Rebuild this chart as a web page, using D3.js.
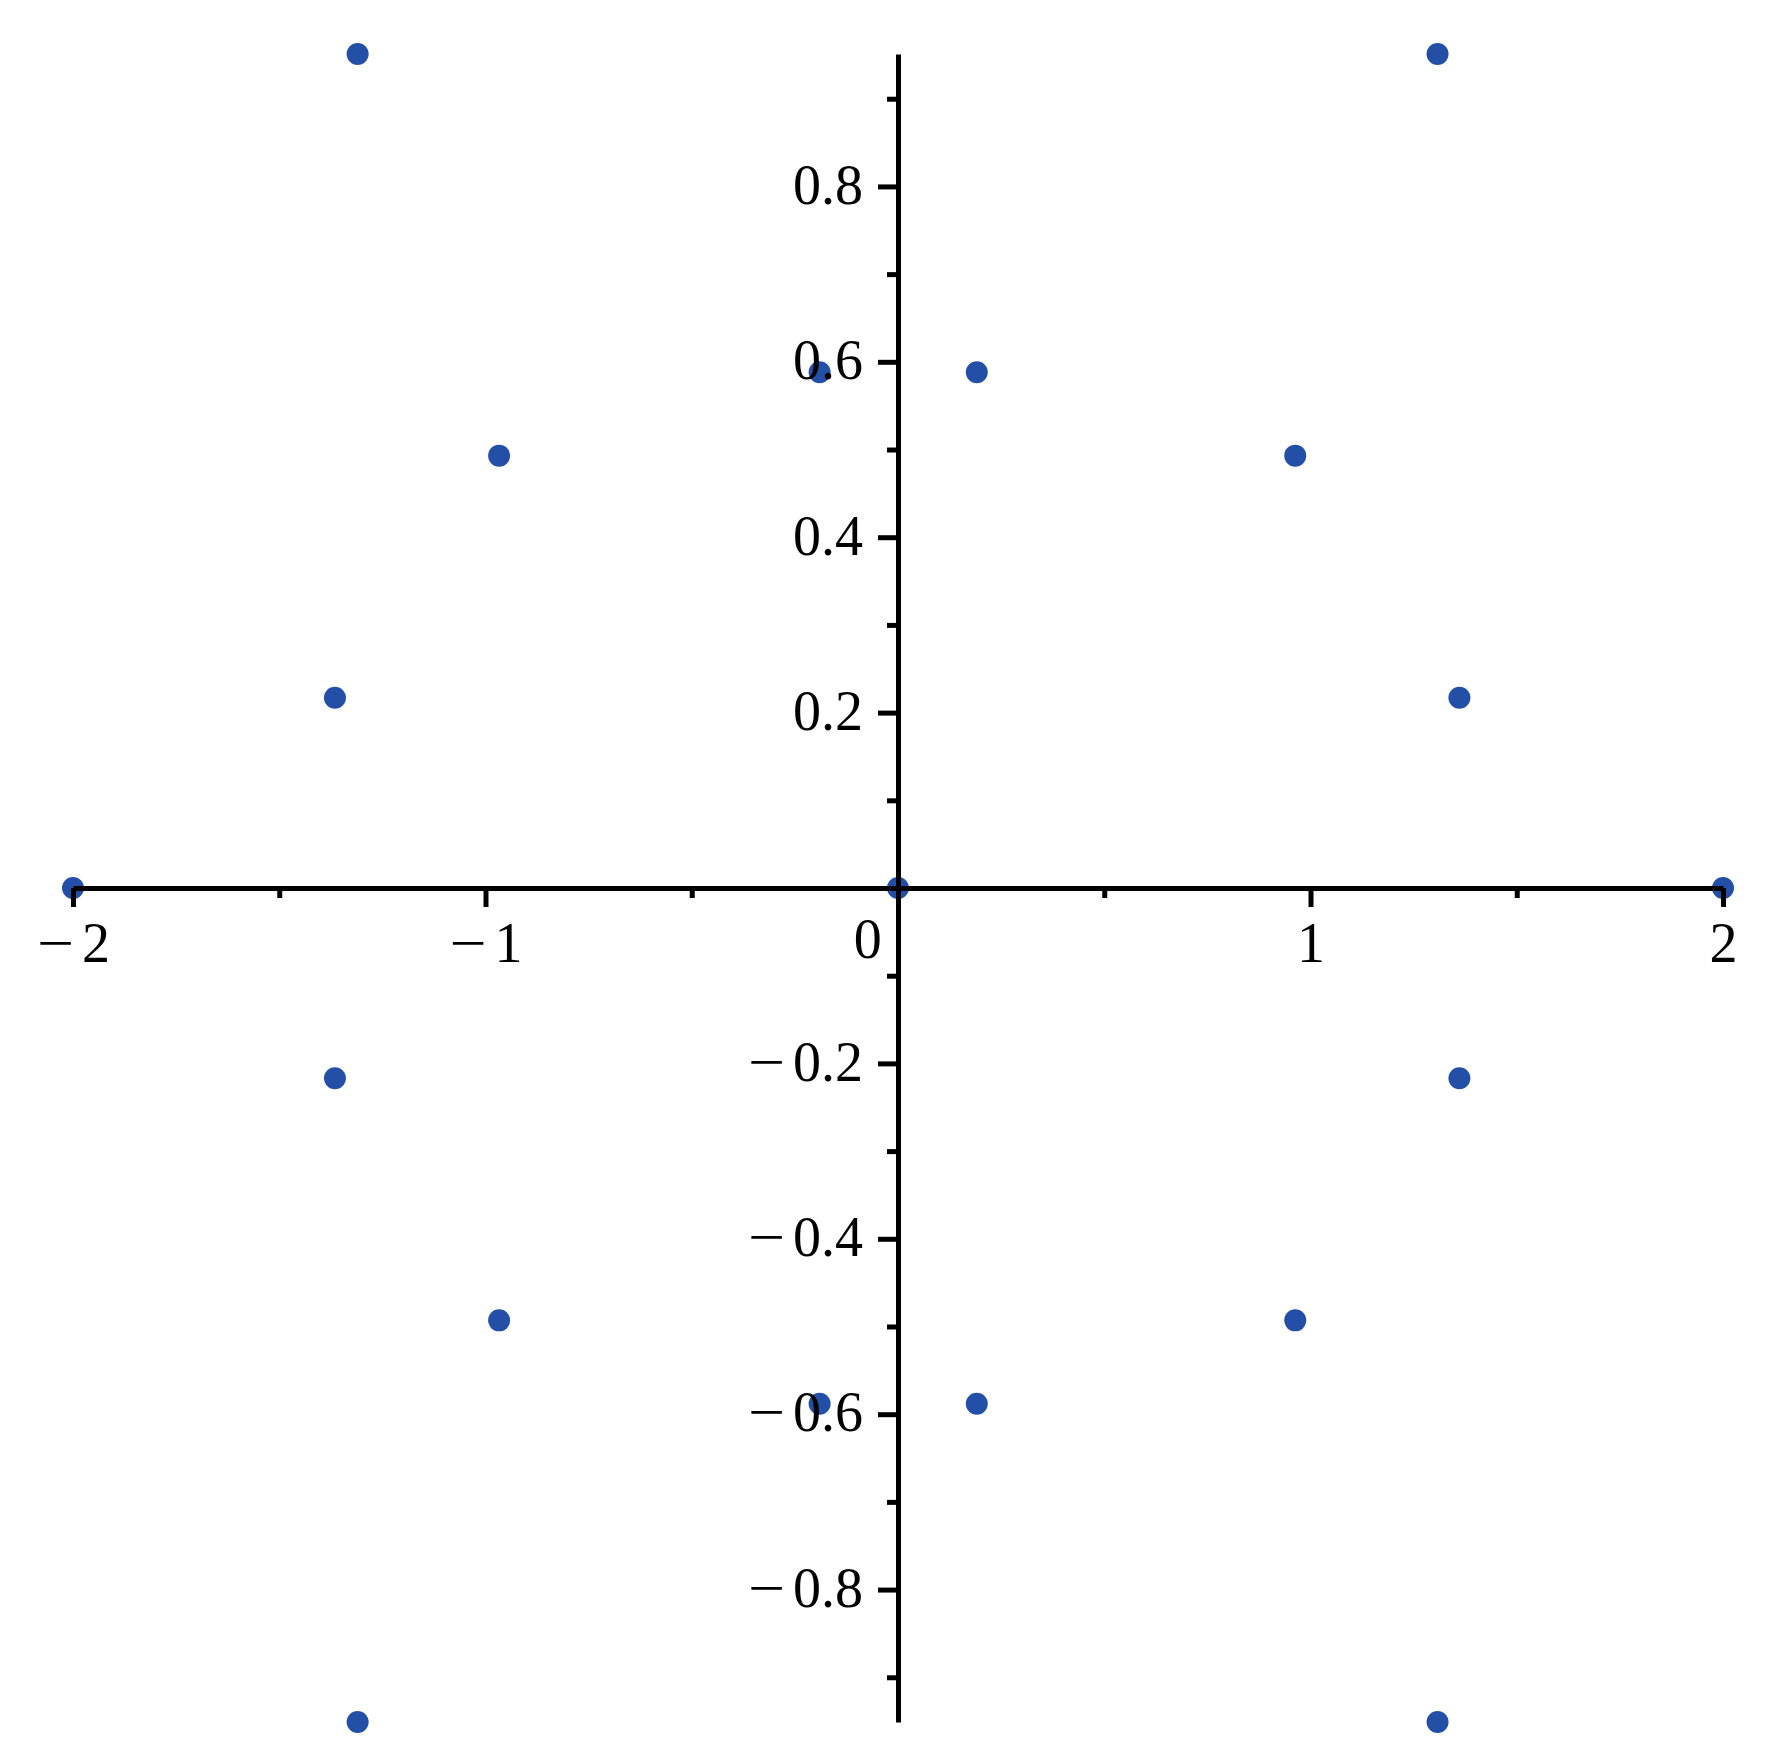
<!DOCTYPE html>
<html>
<head>
<meta charset="utf-8">
<script src="https://cdn.jsdelivr.net/npm/d3@7"></script>
<style>
  html, body { margin: 0; padding: 0; background: #ffffff; }
  svg { display: block; }
</style>
</head>
<body>
<script>
// Data
const pointX = [-1.310, 1.308, -0.190, 0.191, -0.967, 0.963, -1.365, 1.361, -2.0, 0.0, 2.0,
                -1.365, 1.361, -0.967, 0.963, -0.190, 0.191, -1.310, 1.308];
const pointY = [0.951, 0.951, 0.588, 0.588, 0.493, 0.493, 0.217, 0.217, 0.0, 0.0, 0.0,
                -0.217, -0.217, -0.493, -0.493, -0.588, -0.588, -0.951, -0.951];
const xMajorTicks = [-2, -1, 0, 1, 2];
const xMinorTicks = [-1.5, -0.5, 0.5, 1.5];
const yMajorTicks = [-0.8, -0.6, -0.4, -0.2, 0.2, 0.4, 0.6, 0.8];
const yMinorTicks = [-0.9, -0.7, -0.5, -0.3, -0.1, 0.1, 0.3, 0.5, 0.7, 0.9];
const xDomain = [-2, 2];
const yDomain = [-0.951, 0.951];

const W = 1768, H = 1759;
const margin = { left: 73, right: 45, top: 54, bottom: 37 };
const FONT = "'Liberation Serif', 'Times New Roman', Times, serif";
const FONT_SIZE = 56;
const INK = "#000000";
const DOT = "#2350a6";

const svg = d3.select("body").append("svg")
  .attr("width", W).attr("height", H)
  .attr("viewBox", `0 0 ${W} ${H}`);

const x = d3.scaleLinear().domain(xDomain).range([margin.left, W - margin.right]);
const y = d3.scaleLinear().domain(yDomain).range([H - margin.bottom, margin.top]);

const absFmt = d => d3.format("")(Math.abs(d));

// render labels with a long Maple-style minus sign
function styleLabels(sel) {
  sel.attr("font-family", FONT).attr("font-size", FONT_SIZE).attr("fill", INK)
    .each(function (d) {
      const t = d3.select(this);
      t.text(null);
      if (d < 0) {
        t.append("tspan").text("\u2212")
          .attr("textLength", 37).attr("lengthAdjust", "spacingAndGlyphs");
        t.append("tspan").attr("dx", 8).text(absFmt(d));
      } else {
        t.append("tspan").text(absFmt(d));
      }
    });
}

// points (drawn beneath axes)
const pts = pointX.map((v, i) => ({ x: v, y: pointY[i] }));
svg.append("g").selectAll("circle").data(pts).join("circle")
  .attr("cx", d => x(d.x))
  .attr("cy", d => y(d.y))
  .attr("r", 11)
  .attr("fill", DOT);

// x axis: minor ticks
svg.append("g")
  .attr("transform", `translate(0,${y(0)})`)
  .call(d3.axisBottom(x).tickValues(xMinorTicks).tickSize(10).tickSizeOuter(0).tickFormat(""))
  .call(g => g.select(".domain").remove())
  .call(g => g.selectAll("line").attr("stroke", INK).attr("stroke-width", 5));

// x axis: major ticks + labels
const xAxisG = svg.append("g")
  .attr("transform", `translate(0,${y(0)})`)
  .call(d3.axisBottom(x).tickValues(xMajorTicks).tickSize(19).tickPadding(15).tickSizeOuter(0));
xAxisG.select(".domain").attr("stroke", INK).attr("stroke-width", 5);
xAxisG.selectAll(".tick line").attr("stroke", INK).attr("stroke-width", 5)
  .filter(d => d === 0).remove();
xAxisG.selectAll(".tick text").call(styleLabels)
  .filter(d => d === 0).attr("dx", "-0.55em").attr("y", 30);

// y axis: minor ticks
svg.append("g")
  .attr("transform", `translate(${x(0)},0)`)
  .call(d3.axisLeft(y).tickValues(yMinorTicks).tickSize(11).tickSizeOuter(0).tickFormat(""))
  .call(g => g.select(".domain").remove())
  .call(g => g.selectAll("line").attr("stroke", INK).attr("stroke-width", 5));

// y axis: major ticks + labels
const yAxisG = svg.append("g")
  .attr("transform", `translate(${x(0)},0)`)
  .call(d3.axisLeft(y).tickValues(yMajorTicks).tickSize(20).tickPadding(15).tickSizeOuter(0));
yAxisG.select(".domain").attr("stroke", INK).attr("stroke-width", 5);
yAxisG.selectAll(".tick line").attr("stroke", INK).attr("stroke-width", 5);
yAxisG.selectAll(".tick text").call(styleLabels).attr("dy", "0.3em");
</script>
</body>
</html>
